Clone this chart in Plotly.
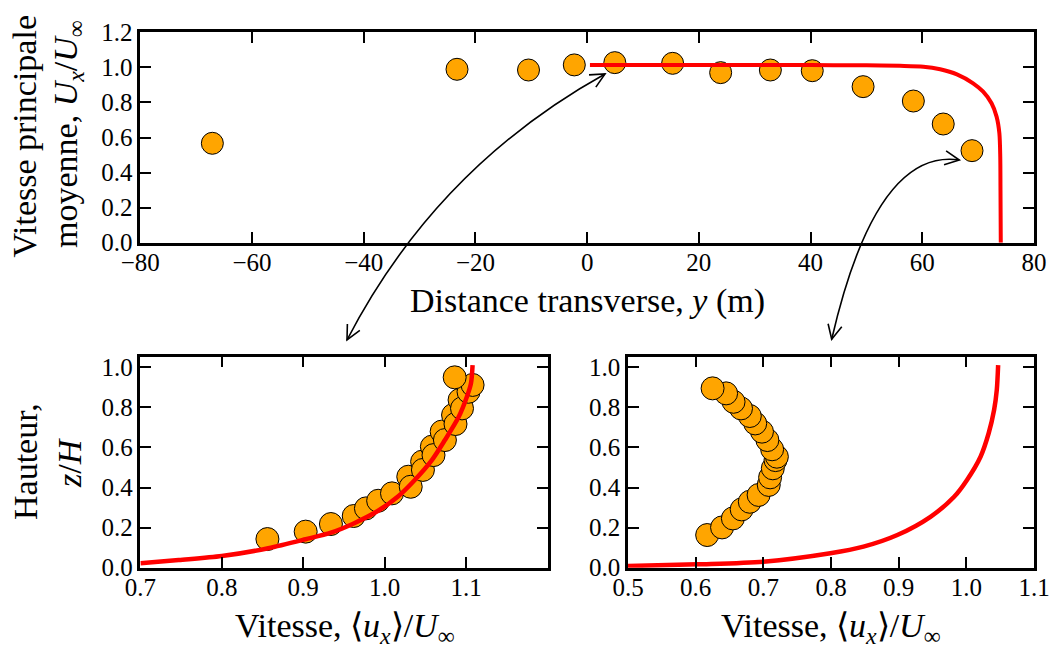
import math
import plotly.graph_objects as go

# ---------------- data ----------------
# top panel: mean streamwise velocity vs transverse distance
top_y_pos = [-67.1, -23.3, -10.5, -2.3, 4.95, 15.3, 23.9, 32.8, 40.3, 49.4, 58.4, 63.75, 68.9]
top_u = [0.567, 0.989, 0.985, 1.014, 1.027, 1.023, 0.970, 0.985, 0.981, 0.890, 0.808, 0.677, 0.525]
top_model_y = [0.5, 20, 40, 50, 56, 60.2, 63.2, 66.2, 69.1, 70.9, 72.4, 73.3, 73.8, 73.96, 74.0, 74.05]
top_model_u = [1.013, 1.013, 1.013, 1.012, 1.009, 1.004, 0.989, 0.960, 0.909, 0.861, 0.795, 0.719, 0.624, 0.49, 0.30, 0.0]

# bottom-left panel: vertical profile near the centre
bl_u = [0.856, 0.903, 0.934, 0.962, 0.977, 0.992, 1.009, 1.029, 1.032, 1.046, 1.047,
        1.058, 1.060, 1.070, 1.074, 1.084, 1.087, 1.092, 1.095, 1.103, 1.108, 1.086]
bl_z = [0.143, 0.180, 0.218, 0.258, 0.296, 0.334, 0.371, 0.454, 0.404, 0.529, 0.488,
        0.604, 0.562, 0.679, 0.637, 0.762, 0.717, 0.837, 0.795, 0.878, 0.912, 0.950]
bl_model_u = [0.70, 0.747, 0.80, 0.857, 0.903, 0.934, 0.962, 0.992, 1.016, 1.037, 1.058, 1.074, 1.091, 1.101, 1.106, 1.108]
bl_model_z = [0.022, 0.038, 0.058, 0.097, 0.142, 0.175, 0.221, 0.284, 0.354, 0.438, 0.537, 0.637, 0.753, 0.853, 0.920, 1.011]

# bottom-right panel: vertical profile near the bank
br_u = [0.617, 0.639, 0.655, 0.668, 0.680, 0.693, 0.708, 0.710, 0.714, 0.718, 0.720,
        0.713, 0.706, 0.698, 0.688, 0.680, 0.667, 0.656, 0.645, 0.625]
br_z = [0.163, 0.201, 0.246, 0.291, 0.329, 0.363, 0.413, 0.451, 0.496, 0.537, 0.554,
        0.591, 0.637, 0.679, 0.720, 0.757, 0.795, 0.828, 0.870, 0.895]
br_model_u = [0.5, 0.602, 0.70, 0.799, 0.848, 0.898, 0.947, 0.982, 1.001, 1.021, 1.033, 1.041, 1.045, 1.047]
br_model_z = [0.008, 0.017, 0.030, 0.072, 0.105, 0.163, 0.254, 0.354, 0.438, 0.554, 0.671, 0.787, 0.887, 1.011]

top_xticks = [-80, -60, -40, -20, 0, 20, 40, 60, 80]
top_yticks = [0.0, 0.2, 0.4, 0.6, 0.8, 1.0, 1.2]
bl_xticks = [0.7, 0.8, 0.9, 1.0, 1.1]
br_xticks = [0.5, 0.6, 0.7, 0.8, 0.9, 1.0, 1.1]
bot_yticks = [0.0, 0.2, 0.4, 0.6, 0.8, 1.0]

# ---------------- style ----------------
W, H = 1051, 648
FONT = "Liberation Serif"
ORANGE = "#FFA500"
RED = "#FF0000"
TICKFONT = dict(family=FONT, size=25, color="black")
TITLEFONT = dict(family=FONT, size=34, color="black")


def px(x):
    return x / W


def py(y):
    return 1 - y / H


fig = go.Figure()

marker = dict(color=ORANGE, size=22, line=dict(color="black", width=1))
marker_b = dict(color=ORANGE, size=23, line=dict(color="black", width=1))

fig.add_trace(go.Scatter(x=top_y_pos, y=top_u, mode="markers", marker=marker,
                         xaxis="x", yaxis="y", showlegend=False))
fig.add_trace(go.Scatter(x=top_model_y, y=top_model_u, mode="lines",
                         line=dict(color=RED, width=4, shape="spline", smoothing=0.8),
                         xaxis="x", yaxis="y", showlegend=False))
fig.add_trace(go.Scatter(x=bl_u, y=bl_z, mode="markers", marker=marker_b,
                         xaxis="x2", yaxis="y2", showlegend=False))
fig.add_trace(go.Scatter(x=bl_model_u, y=bl_model_z, mode="lines",
                         line=dict(color=RED, width=4.5, shape="spline", smoothing=0.8),
                         xaxis="x2", yaxis="y2", showlegend=False))
fig.add_trace(go.Scatter(x=br_u, y=br_z, mode="markers", marker=marker_b,
                         xaxis="x3", yaxis="y3", showlegend=False))
fig.add_trace(go.Scatter(x=br_model_u, y=br_model_z, mode="lines",
                         line=dict(color=RED, width=4.5, shape="spline", smoothing=0.8),
                         xaxis="x3", yaxis="y3", showlegend=False))

axis_common = dict(showline=True, linecolor="black", linewidth=2.5, mirror="ticks",
                   ticks="inside", ticklen=11, tickwidth=1.5, tickcolor="black",
                   showgrid=False, zeroline=False, tickfont=TICKFONT, automargin=False)
xaxis_extra = dict(ticklabelstandoff=-4)

fig.update_layout(
    width=W, height=H,
    margin=dict(l=0, r=0, t=0, b=0),
    paper_bgcolor="white", plot_bgcolor="white",
    xaxis=dict(domain=[px(140.3), px(1034)], range=[-80, 80], tickvals=top_xticks,
               anchor="y", **axis_common, **xaxis_extra),
    yaxis=dict(domain=[py(242.7), py(32.3)], range=[0, 1.2], tickvals=top_yticks,
               tickformat=".1f", anchor="x", **axis_common),
    xaxis2=dict(domain=[px(140.4), px(547.5)], range=[0.7, 1.2], tickvals=bl_xticks,
                tickformat=".1f", anchor="y2", **axis_common, **xaxis_extra),
    yaxis2=dict(domain=[py(567.7), py(356.7)], range=[0, 1.053], tickvals=bot_yticks,
                tickformat=".1f", anchor="x2", **axis_common),
    xaxis3=dict(domain=[px(628), px(1034)], range=[0.5, 1.1], tickvals=br_xticks,
                tickformat=".1f", anchor="y3", **axis_common, **xaxis_extra),
    yaxis3=dict(domain=[py(567.7), py(356.7)], range=[0, 1.053], tickvals=bot_yticks,
                tickformat=".1f", anchor="x3", **axis_common),
)

# ---------------- axis titles (annotations) ----------------
ann = []


def add_text(text, x, y, angle=0):
    ann.append(dict(text=text, x=px(x), y=py(y), xref="paper", yref="paper",
                    showarrow=False, textangle=angle, xanchor="center", yanchor="middle",
                    font=TITLEFONT))


add_text("Distance transverse, <i>y</i> (m)", 587.5, 301)
add_text("Vitesse principale", 24, 136.5, -90)
add_text("moyenne, <i>U<sub>x</sub></i>/<i>U</i><sub>∞</sub>", 68, 134, -90)
add_text("Vitesse, ⟨<i>u<sub>x</sub></i>⟩/<i>U</i><sub>∞</sub>", 345, 628)
add_text("Vitesse, ⟨<i>u<sub>x</sub></i>⟩/<i>U</i><sub>∞</sub>", 831, 628)
add_text("Hauteur,", 26, 462, -90)
add_text("<i>z</i>/<i>H</i>", 70, 463, -90)
fig.update_layout(annotations=ann)

# ---------------- curved double-headed arrows ----------------
shapes = []


def arrowhead(tip, frm, length=16, half=26):
    dx, dy = frm[0] - tip[0], frm[1] - tip[1]
    n = math.hypot(dx, dy)
    dx, dy = dx / n, dy / n
    pts = []
    for s in (-1, 1):
        a = math.radians(half * s)
        rx = dx * math.cos(a) - dy * math.sin(a)
        ry = dx * math.sin(a) + dy * math.cos(a)
        pts.append((tip[0] + length * rx, tip[1] + length * ry))
    path = "M {},{} L {},{} L {},{}".format(px(pts[0][0]), py(pts[0][1]), px(tip[0]), py(tip[1]),
                                          px(pts[1][0]), py(pts[1][1]))
    return dict(type="path", path=path, xref="paper", yref="paper",
                line=dict(color="black", width=1.6))


def curved_arrow(p0, c, p2):
    path = "M {},{} Q {},{} {},{}".format(px(p0[0]), py(p0[1]), px(c[0]), py(c[1]), px(p2[0]), py(p2[1]))
    shapes.append(dict(type="path", path=path, xref="paper", yref="paper",
                       line=dict(color="black", width=1.6)))
    shapes.append(arrowhead(p0, c))
    shapes.append(arrowhead(p2, c))


curved_arrow((347, 340), (436, 168), (605, 74))
curved_arrow((831.7, 339.3), (876, 147.6), (959.3, 160))
fig.update_layout(shapes=shapes)

fig.write_html("out.html", config={"displayModeBar": False},
               post_script="document.body.style.margin='0px';document.body.style.overflow='hidden';")
